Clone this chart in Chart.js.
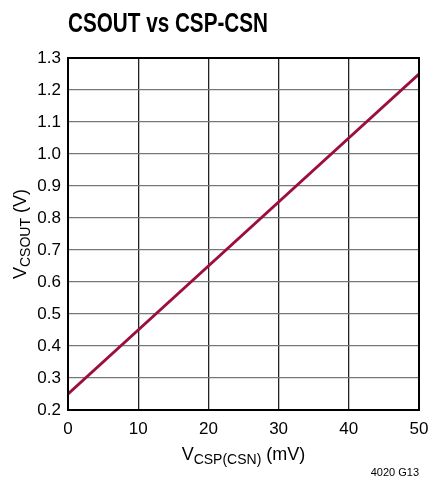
<!DOCTYPE html>
<html>
<head>
<meta charset="utf-8">
<script src="https://cdn.jsdelivr.net/npm/chart.js@4/dist/chart.umd.min.js"></script>
<style>
html,body{margin:0;padding:0;background:#fff;}
#wrap{width:432px;height:477px;position:relative;}
</style>
</head>
<body>
<div id="wrap"><canvas id="c" width="432" height="477"></canvas></div>
<script>
// Data
const xValues = [0, 10, 20, 30, 40, 50];            // V_CSP(CSN) in mV
const yValues = [0.25, 0.45, 0.65, 0.85, 1.05, 1.25]; // V_CSOUT in V
const xTicks = [0, 10, 20, 30, 40, 50];
const yTicks = [0.2, 0.3, 0.4, 0.5, 0.6, 0.7, 0.8, 0.9, 1.0, 1.1, 1.2, 1.3];
const titleText = "CSOUT vs CSP-CSN";
const xTitleMain = "V", xTitleSub = "CSP(CSN)", xTitleUnit = " (mV)";
const yTitleMain = "V", yTitleSub = "CSOUT", yTitleUnit = " (V)";
const footText = "4020 G13";

const FONT = "'Liberation Sans', Arial, sans-serif";

const decor = {
  id: 'decor',
  afterDraw(chart) {
    const ctx = chart.ctx;
    const a = chart.chartArea;
    ctx.save();
    // frame
    ctx.strokeStyle = '#000';
    ctx.lineWidth = 2;
    ctx.strokeRect(a.left, a.top, a.right - a.left, a.bottom - a.top);

    // title (condensed bold)
    ctx.fillStyle = '#000';
    ctx.font = "bold 27px " + FONT;
    ctx.textBaseline = 'alphabetic';
    ctx.textAlign = 'left';
    let w = ctx.measureText(titleText).width;
    ctx.save();
    ctx.translate(68, 32);
    ctx.scale(200 / w, 1);
    ctx.fillText(titleText, 0, 0);
    ctx.restore();

    const measure = (main, sub, unit) => {
      ctx.font = "18px " + FONT;
      const w1 = ctx.measureText(main).width;
      ctx.font = "14px " + FONT;
      const w2 = ctx.measureText(sub).width;
      ctx.font = "18px " + FONT;
      const w3 = ctx.measureText(unit).width;
      return [w1, w2, w3];
    };
    // x title
    let [w1, w2, w3] = measure(xTitleMain, xTitleSub, xTitleUnit);
    let total = w1 + w2 + w3;
    let cx = (a.left + a.right) / 2;
    let x0 = cx - total / 2;
    let by = 460;
    ctx.textAlign = 'left';
    ctx.font = "18px " + FONT;
    ctx.fillText(xTitleMain, x0, by);
    ctx.font = "14px " + FONT;
    ctx.fillText(xTitleSub, x0 + w1, by + 4);
    ctx.font = "18px " + FONT;
    ctx.fillText(xTitleUnit, x0 + w1 + w2, by);

    // y title rotated
    [w1, w2, w3] = measure(yTitleMain, yTitleSub, yTitleUnit);
    total = w1 + w2 + w3;
    ctx.save();
    ctx.translate(26, (a.top + a.bottom) / 2);
    ctx.rotate(-Math.PI / 2);
    x0 = -total / 2;
    ctx.font = "18px " + FONT;
    ctx.fillText(yTitleMain, x0, 0);
    ctx.font = "14px " + FONT;
    ctx.fillText(yTitleSub, x0 + w1, 4);
    ctx.font = "18px " + FONT;
    ctx.fillText(yTitleUnit, x0 + w1 + w2, 0);
    ctx.restore();

    // footnote
    ctx.font = "11px " + FONT;
    ctx.textAlign = 'right';
    ctx.fillText(footText, 419, 476);
    ctx.restore();
  }
};

new Chart(document.getElementById('c'), {
  type: 'line',
  data: {
    datasets: [{
      data: xValues.map((x, i) => ({x: x, y: yValues[i]})),
      borderColor: '#9c0f3c',
      borderWidth: 3,
      pointRadius: 0,
      fill: false,
      tension: 0
    }]
  },
  options: {
    responsive: false,
    animation: false,
    devicePixelRatio: 1,
    layout: { padding: { top: 58, right: 13, left: 0, bottom: 0 } },
    plugins: { legend: { display: false }, tooltip: { enabled: false }, title: { display: false } },
    scales: {
      x: {
        type: 'linear', min: 0, max: 50,
        afterFit(s) { s.height = 67; s.paddingRight = 0; s.paddingLeft = 0; },
        afterBuildTicks(s) { s.ticks = xTicks.map(v => ({value: v})); },
        grid: { color: '#222', lineWidth: 1.3, drawTicks: false },
        border: { display: false },
        ticks: { color: '#000', padding: 9, font: { family: FONT, size: 17 }, maxRotation: 0 }
      },
      y: {
        type: 'linear', min: 0.2, max: 1.3,
        afterFit(s) { s.width = 68; },
        afterBuildTicks(s) { s.ticks = yTicks.map(v => ({value: v})); },
        grid: { color: '#777', lineWidth: 1.3, drawTicks: false },
        border: { display: false },
        ticks: { color: '#000', padding: 7, font: { family: FONT, size: 17 },
          callback: v => v.toFixed(1) }
      }
    }
  },
  plugins: [decor]
});
</script>
</body>
</html>
